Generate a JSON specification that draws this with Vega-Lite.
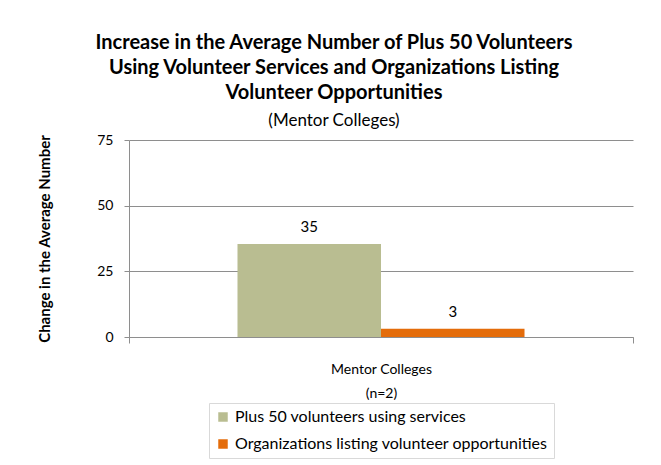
{
  "$schema": "https://vega.github.io/schema/vega-lite/v6.json",
  "autosize": {"type": "none"},
  "width": 504,
  "height": 197,
  "padding": {"left": 129, "top": 140, "right": 28, "bottom": 128},
  "background": "white",
  "config": {"view": {"stroke": null}},
  "title": {
    "text": ["Increase in the Average Number of Plus 50 Volunteers", "Using Volunteer Services and Organizations Listing", "Volunteer Opportunities"],
    "subtitle": "(Mentor Colleges)",
    "anchor": "middle",
    "dx": -47,
    "offset": 4,
    "font": "Lato",
    "fontSize": 20,
    "fontWeight": "bold",
    "color": "#000000",
    "lineHeight": 25,
    "subtitleFont": "Lato",
    "subtitleFontSize": 17,
    "subtitleColor": "#000000",
    "subtitlePadding": 10
  },
  "data": {
    "values": [
      {"group": "Mentor Colleges", "series": "Plus 50 volunteers using services", "value": 35.4},
      {"group": "Mentor Colleges", "series": "Organizations listing volunteer opportunities", "value": 3.1}
    ]
  },
  "encoding": {
    "x": {
      "field": "group",
      "type": "nominal",
      "scale": {"paddingInner": 0, "paddingOuter": 0},
      "axis": {
        "title": ["Mentor Colleges", "(n=2)"],
        "labels": false,
        "tickBand": "extent",
        "tickSize": 6,
        "tickColor": "#8e8e8e",
        "domainColor": "#8e8e8e",
        "titleFont": "Lato",
        "titleFontSize": 14,
        "titleFontWeight": "normal",
        "titleColor": "#000000",
        "titleLineHeight": 24,
        "titlePadding": 19
      }
    },
    "xOffset": {
      "field": "series",
      "type": "nominal",
      "sort": ["Plus 50 volunteers using services", "Organizations listing volunteer opportunities"],
      "scale": {"paddingInner": 0, "paddingOuter": 0.756}
    },
    "y": {
      "field": "value",
      "type": "quantitative",
      "scale": {"domain": [0, 75], "nice": false},
      "axis": {
        "values": [0, 25, 50, 75],
        "title": "Change in the Average Number",
        "titleFont": "Lato",
        "titleFontSize": 15,
        "titleFontWeight": "bold",
        "titleColor": "#000000",
        "titlePadding": 44,
        "labelFont": "Lato",
        "labelFontSize": 14,
        "labelColor": "#000000",
        "labelPadding": 11,
        "tickSize": 5,
        "tickColor": "#8e8e8e",
        "domainColor": "#8e8e8e",
        "gridColor": "#8e8e8e",
        "gridOpacity": 1
      }
    }
  },
  "layer": [
    {
      "mark": {"type": "bar"},
      "encoding": {
        "color": {
          "field": "series",
          "type": "nominal",
          "sort": ["Plus 50 volunteers using services", "Organizations listing volunteer opportunities"],
          "scale": {"range": ["#b9bd91", "#e46c0a"]},
          "legend": {
            "title": null,
            "orient": "none",
            "legendX": 80,
            "legendY": 263,
            "direction": "vertical",
            "symbolType": "square",
            "symbolSize": 90,
            "symbolStrokeWidth": 0,
            "symbolOpacity": 1,
            "labelFont": "Lato",
            "labelFontSize": 16,
            "labelColor": "#000000",
            "labelOffset": 4,
            "labelLimit": 400,
            "rowPadding": 11,
            "strokeColor": "#d9d9d9",
            "padding": 6
          }
        }
      }
    },
    {
      "mark": {"type": "text", "baseline": "bottom", "dy": -9, "font": "Lato", "fontSize": 15, "color": "#000000"},
      "encoding": {
        "text": {"field": "value", "type": "quantitative", "format": ".0f"}
      }
    }
  ]
}
